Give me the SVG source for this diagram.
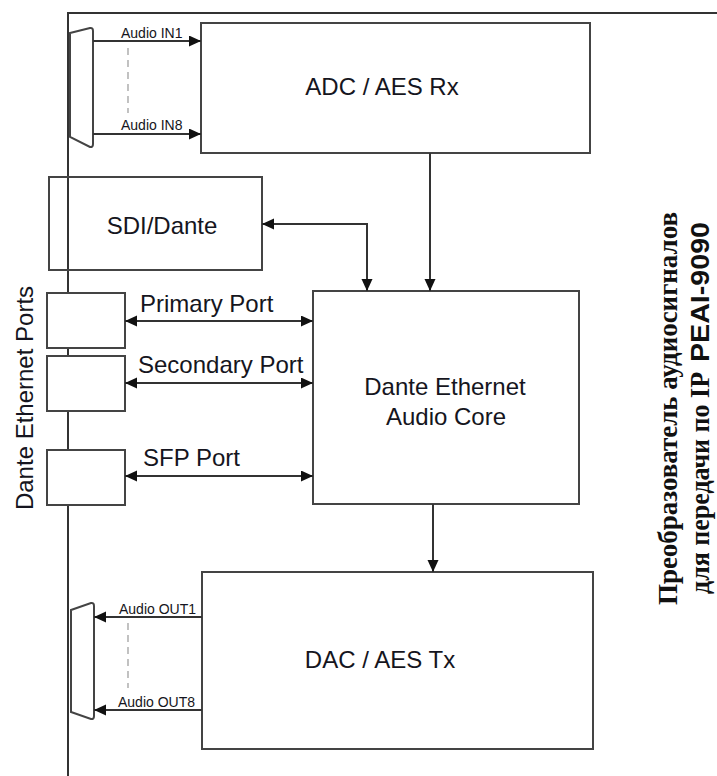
<svg xmlns="http://www.w3.org/2000/svg" width="717" height="776" viewBox="0 0 717 776">
<defs>
<style>
.box{fill:#fff;stroke:#444;stroke-width:2}
.open{fill:none;stroke:#444;stroke-width:2}
.ln{fill:none;stroke:#333;stroke-width:2}
.dash{fill:none;stroke:#999;stroke-width:1.2;stroke-dasharray:7,5}
.t{font-family:"Liberation Sans",Arial,sans-serif;fill:#151520}
.big{font-size:24px}
.sm{font-size:14px}
.ser{font-family:"Liberation Serif","Times New Roman",serif;font-weight:bold;fill:#111;font-size:27px}
.sb{font-family:"Liberation Sans",Arial,sans-serif;font-weight:bold;fill:#111;font-size:26px}
</style>
<marker id="ah" markerUnits="userSpaceOnUse" markerWidth="13" markerHeight="12" refX="12" refY="5.5" orient="auto-start-reverse">
<path d="M0,0 L12,5.5 L0,11 Z" fill="#111"/>
</marker>
</defs>
<rect width="717" height="776" fill="#fff"/>
<g id="frame">
<path class="ln" d="M68,776 V13 H717"/>
</g>
<g id="adc">
<rect class="box" x="201" y="23" width="389" height="130"/>
<text class="t big" x="382" y="95" text-anchor="middle">ADC / AES Rx</text>
</g>
<g id="sdi">
<rect class="open" x="49" y="177" width="213" height="93"/>
<text class="t big" x="162" y="234" text-anchor="middle" font-size="25">SDI/Dante</text>
</g>
<g id="port-primary">
<rect class="box" x="47" y="293" width="78" height="55"/>
</g>
<g id="port-secondary">
<rect class="box" x="47" y="356" width="78" height="55"/>
</g>
<g id="port-sfp">
<rect class="box" x="47" y="450" width="78" height="55"/>
</g>
<g id="ports-label">
<text class="t big" transform="translate(33,398) rotate(-90)" text-anchor="middle">Dante Ethernet Ports</text>
</g>
<g id="core">
<rect class="box" x="313" y="291" width="266" height="213"/>
<text class="t big" x="445" y="395" text-anchor="middle">Dante Ethernet</text>
<text class="t big" x="446" y="425" text-anchor="middle">Audio Core</text>
</g>
<g id="dac">
<rect class="box" x="202" y="572" width="391" height="177"/>
<text class="t big" x="380" y="668" text-anchor="middle">DAC / AES Tx</text>
</g>
<g id="conn-in">
<path class="box" d="M70,33 L90,28 Q93,27.5 93,31 L93,144 Q93,147.5 90,147 L70,137 Z"/>
</g>
<g id="conn-out">
<path class="box" d="M71,610 L91,603 Q94,602.5 94,606 L94,716 Q94,719.5 91,719 L71,712 Z"/>
</g>
<g id="title">
<text class="ser" transform="translate(677,605) rotate(-90)" textLength="393" lengthAdjust="spacingAndGlyphs">Преобразователь аудиосигналов</text>
<text class="ser" transform="translate(709,594) rotate(-90)" textLength="222" lengthAdjust="spacingAndGlyphs">для передачи по IP</text>
<text class="sb" transform="translate(709,362) rotate(-90)" textLength="140" lengthAdjust="spacingAndGlyphs">PEAI-9090</text>
</g>
<g id="connectors">
<path class="ln" d="M93,41 H201" marker-end="url(#ah)"/>
<path class="ln" d="M93,134 H201" marker-end="url(#ah)"/>
<path class="dash" d="M128,48 V113"/>
<path class="ln" d="M430,153 V291" marker-end="url(#ah)"/>
<path class="ln" d="M367,291 V224 H262" marker-start="url(#ah)" marker-end="url(#ah)"/>
<path class="ln" d="M125,321 H313" marker-start="url(#ah)" marker-end="url(#ah)"/>
<path class="ln" d="M125,383 H313" marker-start="url(#ah)" marker-end="url(#ah)"/>
<path class="ln" d="M125,476 H313" marker-start="url(#ah)" marker-end="url(#ah)"/>
<path class="ln" d="M433,504 V572" marker-end="url(#ah)"/>
<path class="ln" d="M202,617 H94" marker-end="url(#ah)"/>
<path class="ln" d="M202,710 H94" marker-end="url(#ah)"/>
<path class="dash" d="M128,623 V688"/>
</g>
<g id="labels">
<text class="t sm" x="121" y="38">Audio IN1</text>
<text class="t sm" x="121" y="130">Audio IN8</text>
<text class="t sm" x="119" y="614">Audio OUT1</text>
<text class="t sm" x="118" y="707">Audio OUT8</text>
<text class="t big" x="140" y="312">Primary Port</text>
<text class="t big" x="138" y="373">Secondary Port</text>
<text class="t big" x="143" y="466">SFP Port</text>
</g>
</svg>
